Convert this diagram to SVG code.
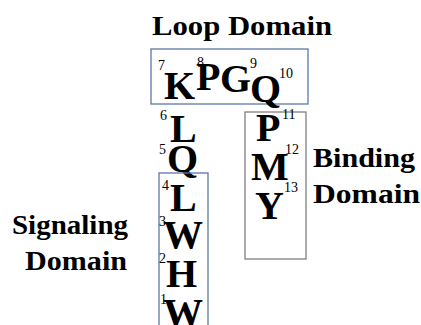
<svg xmlns="http://www.w3.org/2000/svg" width="421" height="325" viewBox="0 0 421 325">
<style>
text{font-family:'Liberation Serif','Times New Roman',Times,serif;fill:#000}
.big{font-weight:700;font-size:40px}
.sup{font-size:14px}
.lbl{font-weight:700;font-size:27px}
.box{fill:none;stroke-width:1.3}
</style>
<rect width="421" height="325" fill="#fff"/>
<g id="loop-domain">
<rect class="box" x="151" y="49" width="157" height="55" stroke="#5a78a8"/>
<text class="lbl" x="152" y="35" textLength="180" lengthAdjust="spacingAndGlyphs">Loop Domain</text>
<text class="big" x="164" y="99">K</text><text class="sup" x="158" y="70">7</text>
<text class="big" x="196" y="90">P</text><text class="sup" x="197" y="67">8</text>
<text class="big" x="220" y="92">G</text><text class="sup" x="250" y="68">9</text>
<text class="big" x="250" y="102">Q</text><text class="sup" x="279" y="78">10</text>
</g>
<g id="linker">
<text class="big" x="170" y="142">L</text><text class="sup" x="160" y="120">6</text>
<text class="big" x="167" y="172">Q</text><text class="sup" x="159" y="154">5</text>
</g>
<g id="signaling-domain">
<rect class="box" x="159" y="173" width="49" height="160" stroke="#5a78a8"/>
<text class="lbl" x="12" y="234" textLength="116" lengthAdjust="spacingAndGlyphs">Signaling</text>
<text class="lbl" x="25" y="270" textLength="102" lengthAdjust="spacingAndGlyphs">Domain</text>
<text class="big" x="170" y="211">L</text><text class="sup" x="162" y="190">4</text>
<text class="big" x="163" y="248">W</text><text class="sup" x="159" y="226">3</text>
<text class="big" x="166" y="287">H</text><text class="sup" x="159" y="263">2</text>
<text class="big" x="163" y="326">W</text><text class="sup" x="160" y="304">1</text>
</g>
<g id="binding-domain">
<rect class="box" x="245" y="112" width="61" height="147" stroke="#808080"/>
<text class="lbl" x="313" y="167" textLength="102" lengthAdjust="spacingAndGlyphs">Binding</text>
<text class="lbl" x="313" y="203" textLength="107" lengthAdjust="spacingAndGlyphs">Domain</text>
<text class="big" x="256" y="141">P</text><text class="sup" x="282" y="119">11</text>
<text class="big" x="251" y="180">M</text><text class="sup" x="285" y="154">12</text>
<text class="big" x="255" y="219">Y</text><text class="sup" x="284" y="192">13</text>
</g>
<g id="connectors"></g>
</svg>
